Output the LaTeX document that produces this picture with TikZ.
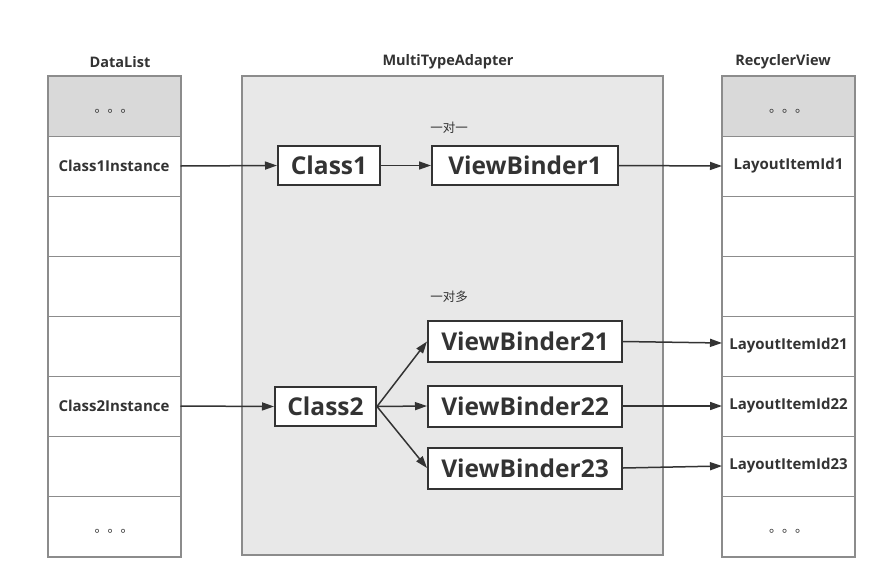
\documentclass[tikz,border=0pt]{standalone}
\usepackage{fontspec}
\setmainfont{Open Sans}
\newfontfamily\cjk{Noto Sans CJK SC}
\usetikzlibrary{arrows.meta}
\definecolor{ink}{HTML}{333333}
\definecolor{frame}{HTML}{8C8C8C}
\definecolor{head}{HTML}{D9D9D9}
\definecolor{adfill}{HTML}{E8E8E8}
\tikzset{
  cell/.style={minimum width=132pt,minimum height=60pt,inner sep=0pt,draw=frame,line width=1pt,fill=white,text=ink,font=\fontsize{15}{17}\selectfont\bfseries},
  headcell/.style={cell,fill=head},
  dots/.style={text=ink,font=\cjk\fontsize{13}{14}\selectfont},
  title/.style={text=ink,font=\fontsize{14.5}{16}\selectfont\bfseries},
  outer/.style={draw=frame,line width=2pt},
  box/.style={draw=ink,line width=2pt,fill=white,text=ink,inner sep=0pt,font=\fontsize{24.5}{27}\selectfont\bfseries},
  note/.style={text=ink,font=\cjk\fontsize{12.5}{14}\selectfont},
  arr/.style={draw=ink,line width=1.5pt,-{Triangle[length=12pt,width=8pt]}},
}
\begin{document}
\begin{tikzpicture}[x=1pt,y=-1pt]
\useasboundingbox[fill=white] (0,0) rectangle (886,587);
% adapter
\node[draw=frame,line width=2pt,fill=adfill,minimum width=421pt,minimum height=479pt,inner sep=0pt] (mta) at (452.5,315.5) {};
% titles
\node[title] (tdl) at (120,62) {DataList};
\node[title] (tmta) at (448,62) {MultiTypeAdapter};
\node[title] (trv) at (783,62) {RecyclerView};
% DataList column
\node[headcell] (d1) at (114,106) {};
\node[cell] (d2) at (114,166) {Class1Instance};
\node[cell] (d3) at (114,226) {};
\node[cell] (d4) at (114,286) {};
\node[cell] (d5) at (114,346) {};
\node[cell] (d6) at (114,406) {Class2Instance};
\node[cell] (d7) at (114,466) {};
\node[cell] (d8) at (114,526) {};
\draw[outer] (d1.north west) rectangle (d8.south east);
\node[dots] (dd1) at (114,111) {。。。};
\node[dots] (dd8) at (114,531) {。。。};
% RecyclerView column
\node[headcell] (r1) at (788.5,106) {};
\node[cell] (r2) at (788.5,166) {LayoutItemId1};
\node[cell] (r3) at (788.5,226) {};
\node[cell] (r4) at (788.5,286) {};
\node[cell] (r5) at (788.5,346) {LayoutItemId21};
\node[cell] (r6) at (788.5,406) {LayoutItemId22};
\node[cell] (r7) at (788.5,466) {LayoutItemId23};
\node[cell] (r8) at (788.5,526) {};
\draw[outer] (r1.north west) rectangle (r8.south east);
\node[dots] (rd1) at (788.5,111) {。。。};
\node[dots] (rd8) at (788.5,531) {。。。};
% inner boxes
\node[box,minimum width=102pt,minimum height=39pt] (c1) at (329,165.5) {Class1};
\node[box,minimum width=186pt,minimum height=39pt] (vb1) at (525,165.5) {ViewBinder1};
\node[box,minimum width=101pt,minimum height=39pt] (c2) at (325.5,406.5) {Class2};
\node[box,minimum width=194pt,minimum height=41pt] (vb21) at (525,341.5) {ViewBinder21};
\node[box,minimum width=194pt,minimum height=41pt] (vb22) at (525,406) {ViewBinder22};
\node[box,minimum width=194pt,minimum height=41pt] (vb23) at (525,468) {ViewBinder23};
\node[note] (n1) at (449,128) {一对一};
\node[note] (n2) at (449,297) {一对多};
% connectors
\draw[arr] (d2.east) -- (c1.west);
\draw[arr] (c1.east) -- (vb1.west);
\draw[arr] (vb1.east) -- (r2.west);
\draw[arr] (d6.east) -- (c2.west);
\draw[arr] (c2.east) -- (vb21.west);
\draw[arr] (c2.east) -- (vb22.west);
\draw[arr] (c2.east) -- (vb23.west);
\draw[arr] (vb21.east) -- ([yshift=3pt]r5.west);
\draw[arr] (vb22.east) -- (r6.west);
\draw[arr] (vb23.east) -- (r7.west);
\end{tikzpicture}
\end{document}
